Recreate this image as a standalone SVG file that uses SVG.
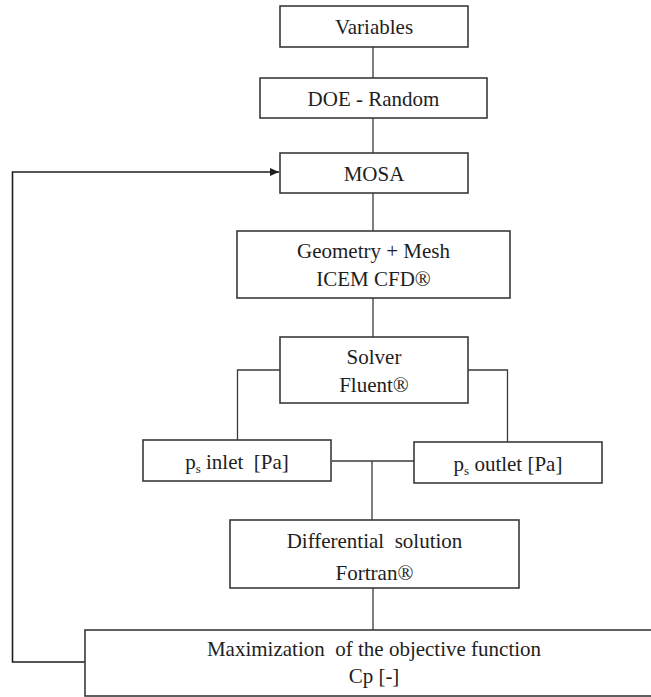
<svg xmlns="http://www.w3.org/2000/svg" width="651" height="697" viewBox="0 0 651 697">
<style>
.box{fill:#fff;stroke:#3a3a3a;stroke-width:1.6}
.ln{fill:none;stroke:#3a3a3a;stroke-width:1.3}
text{font-family:'Liberation Serif','Times New Roman','DejaVu Serif',serif;font-size:21px;fill:#1e1e1e;text-anchor:middle}
.sub{font-size:13px}
</style>
<defs>
<marker id="ah" markerWidth="10" markerHeight="10" refX="9" refY="5" orient="auto" markerUnits="userSpaceOnUse">
<path d="M0,1 L9,5 L0,9 Z" fill="#1e1e1e"/>
</marker>
</defs>
<rect width="651" height="697" fill="#fff"/>
<g id="connectors">
<line class="ln" x1="373" y1="47" x2="373" y2="78"/>
<line class="ln" x1="373" y1="118" x2="373" y2="153"/>
<line class="ln" x1="373" y1="193" x2="373" y2="231"/>
<line class="ln" x1="373" y1="298" x2="373" y2="337"/>
<polyline class="ln" points="280,370 237.5,370 237.5,440"/>
<polyline class="ln" points="468,370 507.5,370 507.5,442"/>
<line class="ln" x1="332" y1="461" x2="414" y2="461"/>
<line class="ln" x1="372" y1="461" x2="372" y2="520"/>
<line class="ln" x1="373" y1="588" x2="373" y2="630"/>
<polyline class="ln" points="85,662 12.5,662 12.5,172 279,172" style="stroke:#1e1e1e;stroke-width:1.6" marker-end="url(#ah)"/>
</g>
<g id="variables"><rect class="box" x="280" y="6" width="188" height="41"/><text x="374" y="34">Variables</text></g>
<g id="doe"><rect class="box" x="260" y="78" width="227" height="40"/><text x="373.5" y="106">DOE - Random</text></g>
<g id="mosa"><rect class="box" x="280" y="153" width="188" height="40"/><text x="374" y="181">MOSA</text></g>
<g id="geometry"><rect class="box" x="237" y="231" width="273" height="67"/><text x="373.5" y="258">Geometry + Mesh</text><text x="373.5" y="286">ICEM CFD®</text></g>
<g id="solver"><rect class="box" x="280" y="337" width="188" height="66"/><text x="374" y="364">Solver</text><text x="374" y="392">Fluent®</text></g>
<g id="ps-inlet"><rect class="box" x="143" y="440" width="188" height="41"/><text x="237" y="469" xml:space="preserve">p<tspan class="sub" dy="4">s</tspan><tspan dy="-4"> inlet  [Pa]</tspan></text></g>
<g id="ps-outlet"><rect class="box" x="414" y="442" width="188" height="41"/><text x="508" y="471">p<tspan class="sub" dy="4">s</tspan><tspan dy="-4"> outlet [Pa]</tspan></text></g>
<g id="differential"><rect class="box" x="230" y="520" width="289" height="68"/><text x="374.5" y="548" xml:space="preserve">Differential  solution</text><text x="374.5" y="580">Fortran®</text></g>
<g id="maximization"><rect class="box" x="85" y="630" width="580" height="66"/><text x="374" y="656" xml:space="preserve">Maximization  of the objective function</text><text x="374" y="683">Cp [-]</text></g>
</svg>
